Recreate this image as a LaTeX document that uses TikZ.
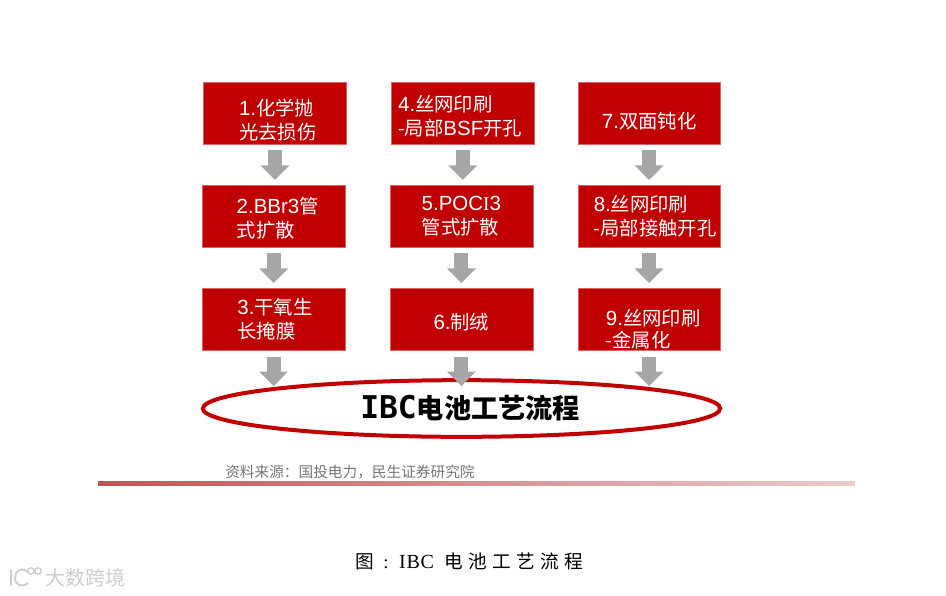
\documentclass[tikz,border=0pt]{standalone}
\usepackage{fontspec}
\setmainfont{Noto Sans CJK SC}
\newfontfamily\latinfont[Scale=1.06]{Liberation Sans}
\newfontfamily\serifcap{Liberation Serif}
\newfontfamily\slabfont{DejaVu Sans Mono}
\newfontfamily\capfont[LetterSpace=28]{Noto Sans CJK SC}
\newfontfamily\capserif[LetterSpace=4]{Liberation Serif}
\usepackage{xcolor}
\usetikzlibrary{arrows.meta, positioning, shapes.geometric}
\definecolor{stepred}{RGB}{192,0,0}
\definecolor{arrowgray}{RGB}{166,166,166}
\definecolor{textwhite}{RGB}{255,255,255}
\definecolor{sourcegray}{RGB}{118,118,118}
\definecolor{rulered}{RGB}{190,85,85}
\definecolor{markgray}{RGB}{205,205,205}
% taller first line, moves the text of a box down
\newcommand{\lineup}[1]{\rule{0pt}{#1}}
\tikzset{
  % Process step box
  stepbox/.style={
    rectangle, minimum width=107pt, minimum height=46.5pt,
    fill=stepred, draw=stepred!60!white, line width=0.3pt, inner sep=0pt,
    text=textwhite, font=\fontsize{14.5pt}{18pt}\selectfont, align=left
  },
  % Block arrow between steps
  blockarr/.style={
    -{Triangle[length=11pt, width=21pt]}, color=arrowgray, line width=10.5pt,
    shorten <=4pt, shorten >=4pt
  },
  % Block arrow into the ellipse
  lastarr/.style={
    blockarr, shorten <=4.5pt, shorten >=-6pt
  },
  % Result ellipse
  resultring/.style={
    ellipse, minimum width=388pt, minimum height=42.5pt, inner sep=0pt,
    draw=stepred, line width=3pt, fill=white,
    font=\fontsize{20.4pt}{24pt}\selectfont\bfseries
  },
  % Source line
  sourcelabel/.style={
    font=\fontsize{11pt}{15pt}\selectfont, text=sourcegray, inner sep=0pt
  },
  % Figure caption
  caplabel/.style={
    font=\fontsize{14pt}{16pt}\selectfont, inner sep=0pt
  },
  % Watermark
  marklabel/.style={
    font=\fontsize{15pt}{16pt}\selectfont, text=markgray, inner sep=0pt
  },
}
\begin{document}
\begin{tikzpicture}[x=0.75pt, y=-0.75pt]
  \useasboundingbox (0,0) rectangle (946,596);
  % first column
  \node[stepbox] (s1) at (275,113.5)
    {\lineup{21.5pt}\hspace*{4pt}{\latinfont 1.}化学抛\\\hspace*{4pt}光去损伤};
  \node[stepbox, below=30.5pt of s1, xshift=-1pt] (s2)
    {\lineup{14pt}\hspace*{6pt}{\latinfont 2.BBr3}管\\\hspace*{6pt}式扩散};
  \node[stepbox, below=30.5pt of s2] (s3)
    {\hspace*{2pt}{\latinfont 3.}干氧生\\\hspace*{2pt}长掩膜};
  % second column
  \node[stepbox, right=33.5pt of s1] (s4)
    {\lineup{15.5pt}\hspace*{-4pt}{\latinfont 4.}丝网印刷\\\hspace*{-4pt}-局部{\latinfont BSF}开孔};
  \node[stepbox, below=30.5pt of s4, xshift=-1pt] (s5)
    {{\latinfont 5.POC{\serifcap I}3}\\管式扩散};
  \node[stepbox, below=30.5pt of s5] (s6) {\lineup{15.5pt}{\latinfont 6.}制绒};
  % third column
  \node[stepbox, right=32.5pt of s4] (s7) {\lineup{23pt}{\latinfont 7.}双面钝化};
  \node[stepbox, below=30.5pt of s7] (s8)
    {\hspace*{9pt}{\latinfont 8.}丝网印刷\\\hspace*{9pt}-局部接触开孔};
  \node[stepbox, below=30.5pt of s8] (s9)
    {\lineup{26pt}\hspace*{6pt}{\latinfont 9.}丝网印刷\\[-1.5pt]\hspace*{6pt}-金属化};
  % result
  \node[resultring] (res) at (461.5,408.5)
    {\hspace*{13pt}{\slabfont\fontsize{23.5pt}{24pt}\selectfont\bfseries IBC}电池工艺流程};
  \coordinate (e1) at (s3.south |- res.north);
  \coordinate (e2) at (s6.south |- res.north);
  \coordinate (e3) at (s9.south |- res.north);
  % arrows
  \draw[blockarr, xshift=-1pt] (s1) -- (s1 |- s2.north);
  \draw[blockarr] (s2) -- (s3);
  \draw[blockarr, xshift=-1.5pt] (s4) -- (s4 |- s5.north);
  \draw[blockarr] (s5) -- (s6);
  \draw[blockarr] (s7) -- (s8);
  \draw[blockarr] (s8) -- (s9);
  \draw[lastarr] (s3.south) -- (e1);
  \draw[lastarr] (s6.south) -- (e2);
  \draw[lastarr] (s9.south) -- (e3);
  % source and rule
  \node[sourcelabel, anchor=west] (src) at (225,472)
    {资料来源\symbol{"FF1A}国投电力\symbol{"FF0C}民生证券研究院};
  \shade[left color=rulered, right color=rulered!30] (98,481) rectangle (855,485);
  % caption
  \node[caplabel, anchor=west] (cap) at (355,561)
    {{\capfont 图}\hspace{7pt}{\serifcap :}\hspace{8pt}{\capserif\fontsize{15pt}{16pt}\selectfont IBC}\hspace{8pt}{\capfont 电池工艺流程}};
  % watermark
  \draw[markgray, line width=1.4pt, line cap=round] (11,570) -- (11,585)
    (28,572) .. controls (20,566) and (15,572) .. (15,578) .. controls (15,585) and (22,588) .. (28,583);
  \draw[markgray, line width=1pt] (31,571) circle (3.2) (38,571) circle (3.2);
  \node[marklabel, anchor=west] (mark) at (45,578) {大数跨境};
\end{tikzpicture}
\end{document}
